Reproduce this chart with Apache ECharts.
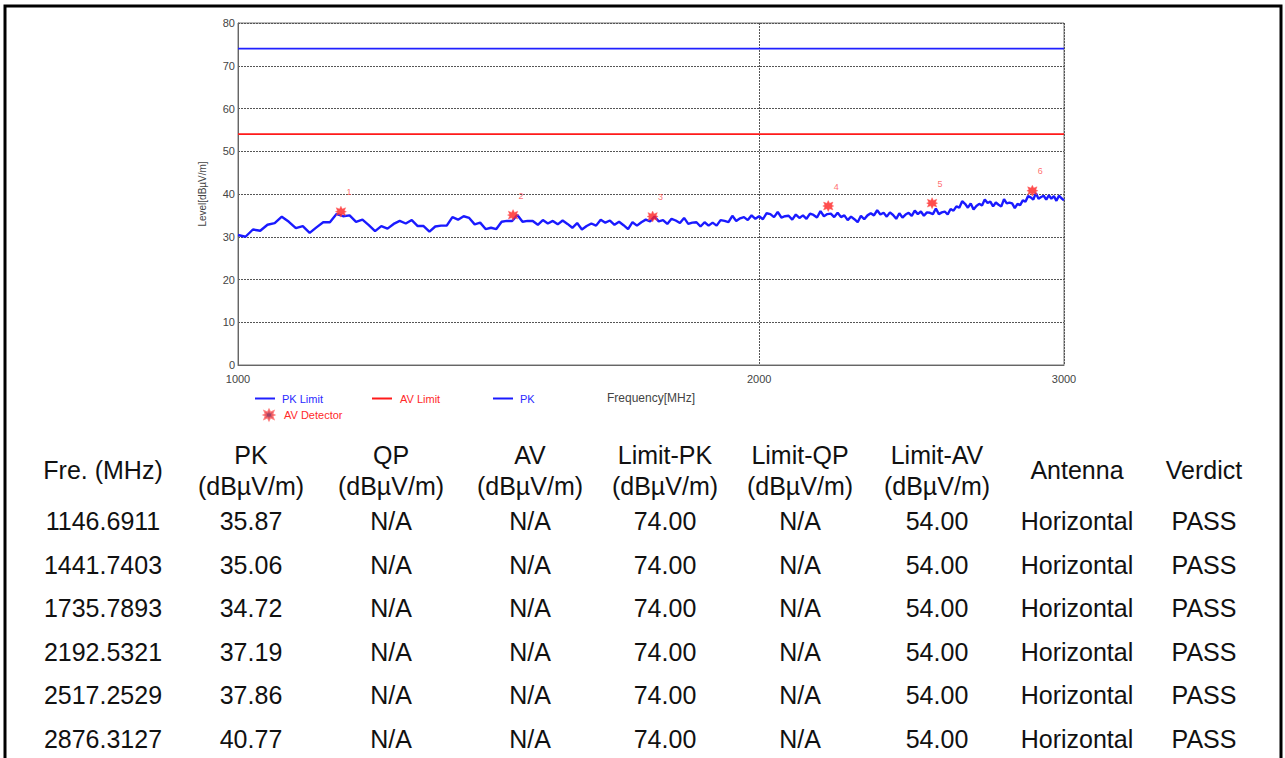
<!DOCTYPE html>
<html>
<head>
<meta charset="utf-8">
<script src="https://cdn.jsdelivr.net/npm/echarts@6/dist/echarts.min.js"></script>
<style>
html,body{margin:0;padding:0;background:#fff;}
#wrap{position:relative;width:1285px;height:758px;overflow:hidden;}
#chart{position:absolute;left:0;top:0;width:1285px;height:758px;}
#table{position:absolute;left:0;top:0;width:1285px;height:758px;pointer-events:none;font-family:"Liberation Sans",Arial,sans-serif;font-size:25px;color:#111;}
.cell{position:absolute;width:220px;text-align:center;line-height:30px;height:30px;white-space:nowrap;}
</style>
</head>
<body>
<div id="wrap">
<div id="chart"></div>
<div id="table"></div>
</div>
<script>
// ---------- chart data ----------
const yTicks = [0, 10, 20, 30, 40, 50, 60, 70, 80];
const xTickLabels = [1000, 2000, 3000];
const pkLimit = [[1000, 74], [3000, 74]];
const avLimit = [[1000, 54], [3000, 54]];
const pkFreq = [
1000,1010,1020,1030,1040,1050,1060,1070,1080,1090,
1100,1110,1120,1130,1140,1150,1160,1170,1180,1190,
1200,1210,1220,1230,1240,1250,1260,1270,1280,1290,
1300,1310,1320,1330,1340,1350,1360,1370,1380,1390,
1400,1410,1420,1430,1440,1450,1460,1470,1480,1490,
1500,1510,1520,1530,1540,1550,1560,1570,1580,1590,
1600,1610,1620,1630,1640,1650,1660,1670,1680,1690,
1700,1710,1720,1730,1740,1750,1760,1770,1780,1790,
1800,1810,1820,1830,1840,1850,1860,1870,1880,1890,
1900,1910,1920,1930,1940,1950,1960,1970,1980,1990,
2000,2010,2020,2030,2040,2050,2060,2070,2080,2090,
2100,2110,2120,2130,2140,2150,2160,2170,2180,2190,
2200,2210,2220,2230,2240,2250,2260,2270,2280,2290,
2300,2310,2320,2330,2340,2350,2360,2370,2380,2390,
2400,2410,2420,2430,2440,2450,2460,2470,2480,2490,
2500,2510,2520,2530,2540,2550,2560,2570,2580,2590,
2600,2610,2620,2630,2640,2650,2660,2670,2680,2690,
2700,2710,2720,2730,2740,2750,2760,2770,2780,2790,
2800,2810,2820,2830,2840,2850,2860,2870,2880,2890,
2900,2910,2920,2930,2940,2950,2960,2970,2980,2990,
3000];
const pkLevel = [
30.4,30.0,31.7,31.4,32.8,33.2,34.7,33.5,32.0,32.5,
30.9,32.2,33.4,33.4,35.3,34.8,35.0,33.5,34.0,32.7,
31.3,32.5,31.9,33.0,33.7,33.1,33.9,32.5,32.5,31.2,
32.4,32.6,32.6,34.6,34.0,34.8,34.4,32.9,33.3,31.8,
32.1,31.8,33.5,33.7,33.7,35.1,33.5,33.7,33.7,32.8,
33.9,33.1,33.7,32.9,33.8,33.0,32.1,33.2,31.7,32.5,
33.1,32.6,34.0,33.3,33.8,32.8,33.5,32.7,31.8,33.4,
32.6,33.4,34.0,33.6,34.7,33.6,33.9,33.0,34.2,33.8,
33.2,34.4,33.0,33.3,33.4,32.4,33.4,32.6,33.3,32.6,
33.9,33.7,33.4,34.9,33.7,34.3,34.6,33.9,35.0,34.2,
34.8,34.1,35.5,35.3,34.6,35.8,34.5,34.8,34.9,34.0,
35.2,34.4,35.0,34.2,35.4,35.1,34.5,36.0,34.8,35.3,
35.4,34.6,35.6,34.6,35.0,33.9,34.7,34.1,33.4,34.9,
34.1,35.0,35.5,35.0,36.2,35.2,35.6,34.7,35.7,35.1,
34.2,35.5,34.5,35.2,35.6,34.9,36.1,35.3,35.9,34.9,
35.7,35.6,35.3,36.6,35.3,35.7,35.9,35.2,36.5,36.1,
37.1,36.8,38.3,37.7,36.8,37.8,36.4,37.2,37.7,37.3,
38.7,37.9,38.2,37.1,38.0,37.5,37.1,38.8,37.8,38.0,
37.8,36.7,37.7,37.4,38.5,38.2,39.5,39.2,38.7,40.2,
38.9,39.3,39.6,38.7,39.7,38.9,39.5,38.4,39.6,39.0,
38.5];
const markerFreq = [1146.6911, 1441.7403, 1735.7893, 2192.5321, 2517.2529, 2876.3127];
const markerPk = [35.87, 35.06, 34.72, 37.19, 37.86, 40.77];
const markerNo = ['1', '2', '3', '4', '5', '6'];

// ---------- table data ----------
const headLine1 = ['Fre. (MHz)', 'PK', 'QP', 'AV', 'Limit-PK', 'Limit-QP', 'Limit-AV', 'Antenna', 'Verdict'];
const headLine2 = ['', '(dBµV/m)', '(dBµV/m)', '(dBµV/m)', '(dBµV/m)', '(dBµV/m)', '(dBµV/m)', '', ''];
const colFre = ['1146.6911', '1441.7403', '1735.7893', '2192.5321', '2517.2529', '2876.3127'];
const colPK = ['35.87', '35.06', '34.72', '37.19', '37.86', '40.77'];
const colQP = ['N/A', 'N/A', 'N/A', 'N/A', 'N/A', 'N/A'];
const colAV = ['N/A', 'N/A', 'N/A', 'N/A', 'N/A', 'N/A'];
const colLimPK = ['74.00', '74.00', '74.00', '74.00', '74.00', '74.00'];
const colLimQP = ['N/A', 'N/A', 'N/A', 'N/A', 'N/A', 'N/A'];
const colLimAV = ['54.00', '54.00', '54.00', '54.00', '54.00', '54.00'];
const colAnt = ['Horizontal', 'Horizontal', 'Horizontal', 'Horizontal', 'Horizontal', 'Horizontal'];
const colVerdict = ['PASS', 'PASS', 'PASS', 'PASS', 'PASS', 'PASS'];

// ---------- build table ----------
const colCenters = [103, 251, 391, 530, 665, 800, 937, 1077, 1204];
const tbl = document.getElementById('table');
function cell(txt, cx, cy) {
  const d = document.createElement('div');
  d.className = 'cell';
  d.textContent = txt;
  d.style.left = (cx - 110) + 'px';
  d.style.top = (cy - 15) + 'px';
  tbl.appendChild(d);
}
headLine1.forEach((h, i) => {
  if (headLine2[i]) { cell(h, colCenters[i], 455); cell(headLine2[i], colCenters[i], 486); }
  else cell(h, colCenters[i], 470);
});
const cols = [colFre, colPK, colQP, colAV, colLimPK, colLimQP, colLimAV, colAnt, colVerdict];
for (let r = 0; r < colFre.length; r++) {
  const cy = 521 + r * 43.6;
  cols.forEach((c, i) => cell(c[r], colCenters[i], cy));
}

// ---------- chart ----------
const chart = echarts.init(document.getElementById('chart'), null, {renderer: 'svg'});
const pkData = pkFreq.map((f, i) => [f, pkLevel[i]]);
const markerData = markerFreq.map((f, i) => ({value: [f, markerPk[i]], name: markerNo[i]}));
const burst = 'path://M5,0L6.3,2.6L9.3,1.4L8.2,4.1L10,5L8.2,5.9L9.3,8.6L6.3,7.4L5,10L3.7,7.4L0.7,8.6L1.8,5.9L0,5L1.8,4.1L0.7,1.4L3.7,2.6Z';
const marker = 'path://M1,1L9,1L9,9L1,9Z M3,3L7,7 M7,3L3,7';
const legText = {fontSize: 11, fontFamily: 'Arial, "Liberation Sans", sans-serif'};
const option = {
  animation: false,
  backgroundColor: '#fff',
  grid: {left: 238, top: 23, width: 826, height: 342, show: true, borderColor: '#777', borderWidth: 1, backgroundColor: 'transparent'},
  xAxis: {
    type: 'log', logBase: 10, min: 1000, max: 3000,
    name: 'Frequency[MHz]', nameLocation: 'middle', nameGap: 27,
    nameTextStyle: {fontSize: 12, color: '#444', fontFamily: 'Arial, "Liberation Sans", sans-serif'},
    axisLine: {show: true, lineStyle: {color: '#666', width: 1}},
    axisTick: {show: false, customValues: xTickLabels},
    axisLabel: {customValues: xTickLabels, formatter: v => String(Math.round(v)), fontSize: 11, color: '#444', margin: 8, fontFamily: 'Arial, "Liberation Sans", sans-serif'},
    splitLine: {show: true, lineStyle: {color: '#555', type: [2, 1], width: 1}},
    minorSplitLine: {show: false}
  },
  yAxis: {
    type: 'value', min: yTicks[0], max: yTicks[yTicks.length - 1], interval: 10,
    name: 'Level[dBµV/m]', nameLocation: 'middle', nameGap: 31, nameRotate: 90,
    nameTextStyle: {fontSize: 10, color: '#444', fontFamily: 'Arial, "Liberation Sans", sans-serif'},
    axisLine: {show: true, lineStyle: {color: '#666', width: 1}},
    axisTick: {show: false},
    axisLabel: {fontSize: 11, color: '#444', margin: 3, fontFamily: 'Arial, "Liberation Sans", sans-serif'},
    splitLine: {show: true, lineStyle: {color: '#555', type: [2, 1], width: 1}}
  },
  legend: [
    {left: 250, top: 388, data: [{name: 'PK Limit', icon: 'rect'}], itemWidth: 20, itemHeight: 2, textStyle: Object.assign({color: '#2a2aff', padding: [0, 0, 0, 2]}, legText), selectedMode: false},
    {left: 367, top: 388, data: [{name: 'AV Limit', icon: 'rect'}], itemWidth: 20, itemHeight: 2, textStyle: Object.assign({color: '#ff2a2a', padding: [0, 0, 0, 3]}, legText), selectedMode: false},
    {left: 488, top: 388, data: [{name: 'PK', icon: 'rect'}], itemWidth: 20, itemHeight: 2, textStyle: Object.assign({color: '#2a2aff', padding: [0, 0, 0, 2]}, legText), selectedMode: false},
    {left: 258, top: 404, data: [{name: 'AV Detector', icon: burst, itemStyle: {color: '#8a1540'}}], itemWidth: 10, itemHeight: 10, textStyle: Object.assign({color: '#ff2a2a', padding: [0, 0, 0, 5]}, legText), selectedMode: false}
  ],
  series: [
    {name: 'PK Limit', type: 'line', data: pkLimit, showSymbol: false, symbol: 'none', lineStyle: {color: '#2020ff', width: 1.6}, itemStyle: {color: '#2020ff'}, z: 3},
    {name: 'AV Limit', type: 'line', data: avLimit, showSymbol: false, symbol: 'none', lineStyle: {color: '#ff1a1a', width: 1.6}, itemStyle: {color: '#ff1a1a'}, z: 3},
    {name: 'PK', type: 'line', data: pkData, showSymbol: false, symbol: 'none', lineStyle: {color: '#1a1aff', width: 2.4}, itemStyle: {color: '#1a1aff'}, z: 4},
    {name: 'AV Detector', type: 'scatter', data: markerData, symbol: burst, symbolSize: 11,
      itemStyle: {color: '#ff2020', borderColor: '#ff6060', borderWidth: 0.5}, z: 5,
      label: {show: true, formatter: p => p.name, position: 'top', offset: [8, -4], fontSize: 9, color: '#ff4a4a', fontFamily: 'Arial, "Liberation Sans", sans-serif'}}
  ],
  graphic: [
    {type: 'rect', shape: {x: 5, y: 6, width: 1276, height: 800}, style: {fill: 'none', stroke: '#000', lineWidth: 3}, silent: true, z: 100}
  ]
};
chart.setOption(option);
</script>
</body>
</html>
